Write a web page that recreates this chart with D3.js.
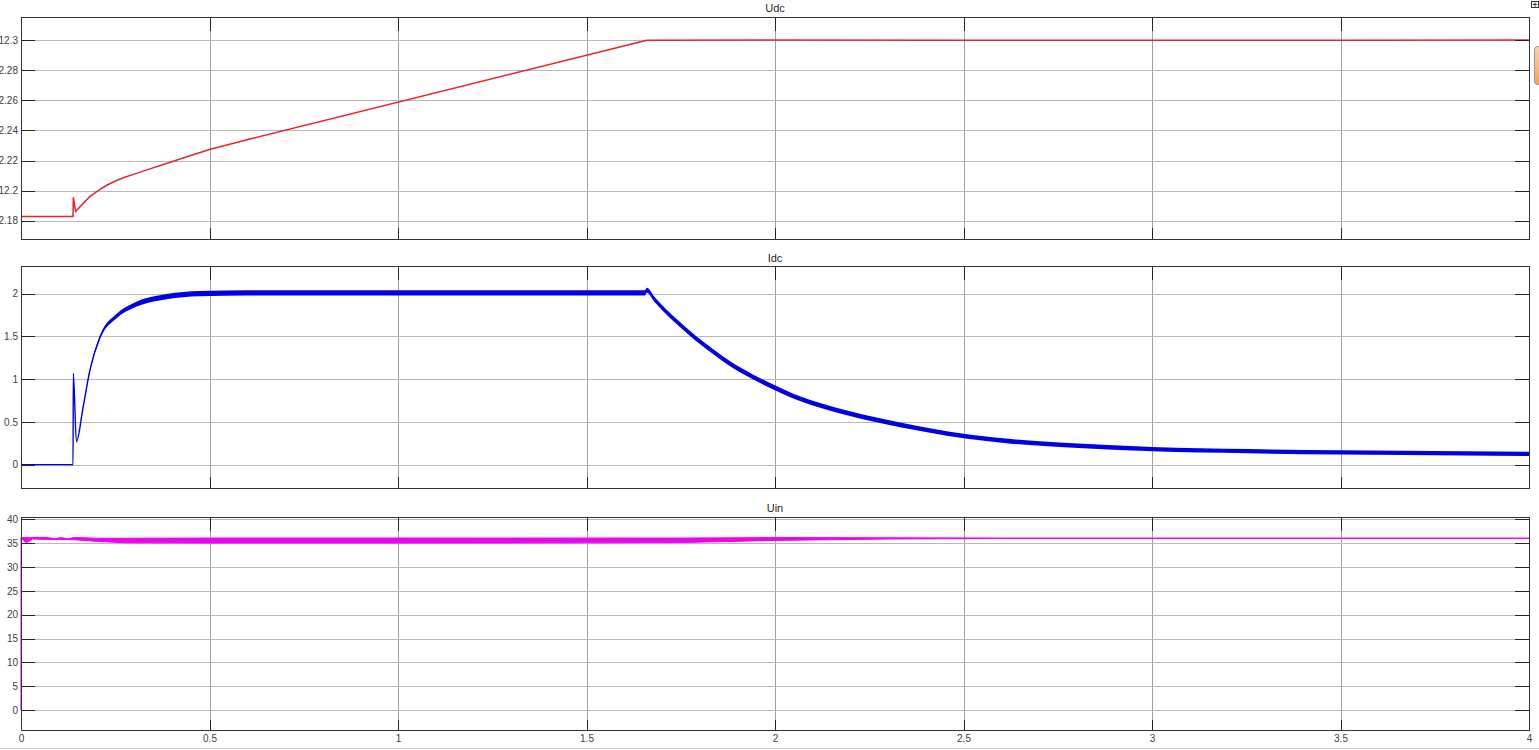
<!DOCTYPE html>
<html>
<head>
<meta charset="utf-8">
<script src="https://cdn.jsdelivr.net/npm/d3@7"></script>
<style>
  body { margin: 0; background: #fff; overflow: hidden; }
  svg { display: block; font-family: "Liberation Sans", Arial, sans-serif; }
  .grid line { stroke: #b8b8b8; stroke-width: 1; shape-rendering: crispEdges; }
  .grid path { display: none; }
  .ticks line { stroke: #262626; shape-rendering: crispEdges; }
  .ticks path { display: none; }
  .ticks text { fill: #404040; font-size: 10px; }
  .title { fill: #262626; font-size: 11px; text-anchor: middle; }
</style>
</head>
<body>
<div id="chart"></div>
<script>
// time axis ticks
var timeTicks = [0, 0.5, 1, 1.5, 2, 2.5, 3, 3.5, 4];

// Udc (top)
var udcTime  = [0, 0.138, 0.1388, 0.145, 0.15, 0.165, 0.183, 0.2095, 0.23, 0.2536, 0.275, 0.298, 0.34, 0.386, 0.44, 0.5, 0.607, 1.66, 2, 2.5, 3, 3.5, 4];
var udcValue = [12.1827, 12.1827, 12.1953, 12.1859, 12.1875, 12.1915, 12.1962, 12.2008, 12.2039, 12.2067, 12.2089, 12.2108, 12.2143, 12.218, 12.2225, 12.2274, 12.2343, 12.3, 12.3002, 12.3001, 12.3, 12.3001, 12.3002];
var udcTicks = [12.18, 12.2, 12.22, 12.24, 12.26, 12.28, 12.3];

// Idc (middle): centre value and half width of the ripple band
var idcTime   = [0, 0.138, 0.1388, 0.147, 0.165, 0.183, 0.2095, 0.2536, 0.298, 0.386, 0.474, 0.6, 1.0, 1.4, 1.655, 1.66, 1.68, 1.704, 1.75, 1.792, 1.84, 1.881, 1.94, 2.0, 2.05, 2.1, 2.17, 2.233, 2.3, 2.332, 2.411, 2.5, 2.62, 2.766, 3.0, 3.256, 3.5, 4];
var idcValue  = [0, 0, 1.069, 0.27, 0.68, 1.108, 1.49, 1.739, 1.86, 1.965, 2.0, 2.01, 2.01, 2.01, 2.01, 2.04, 1.935, 1.82, 1.63, 1.47, 1.31, 1.18, 1.03, 0.9, 0.8, 0.72, 0.63, 0.56, 0.495, 0.465, 0.4, 0.335, 0.275, 0.23, 0.182, 0.158, 0.143, 0.127];
var idcRipple = [0, 0, 0, 0, 0.008, 0.015, 0.02, 0.025, 0.028, 0.03, 0.031, 0.031, 0.031, 0.031, 0.031, 0.03, 0.03, 0.029, 0.029, 0.029, 0.029, 0.029, 0.029, 0.029, 0.028, 0.028, 0.028, 0.028, 0.028, 0.028, 0.027, 0.027, 0.027, 0.026, 0.026, 0.025, 0.025, 0.025];
var idcTicks  = [0, 0.5, 1, 1.5, 2];

// Uin (bottom): upper and lower envelope
var uinTime = [0, 0.0004, 0.003, 0.012, 0.02, 0.03, 0.07, 0.09, 0.105, 0.125, 0.14, 0.17, 0.2, 0.28, 0.5, 1.0, 1.5, 1.75, 2.0, 2.3, 2.6, 3, 3.5, 4];
var uinHigh = [0, 36.2, 36.2, 36.2, 36.15, 36.2, 36.2, 35.95, 36.2, 35.95, 36.2, 36.15, 36.05, 36.05, 36.1, 36.1, 36.1, 36.1, 36.2, 36.15, 36.1, 36.1, 36.1, 36.1];
var uinLow  = [0, 36.0, 35.9, 35.2, 35.3, 35.9, 35.8, 35.8, 35.8, 35.8, 35.75, 35.6, 35.4, 35.1, 35.05, 35.05, 35.1, 35.15, 35.6, 35.9, 36.0, 36.0, 36.0, 36.0];
var uinTicks = [0, 5, 10, 15, 20, 25, 30, 35, 40];

var width = 1539, height = 750;
var left = 21, right = 1529;
var fmt = d3.format("~g");

var svg = d3.select("#chart").append("svg")
    .attr("width", width)
    .attr("height", height);

var x = d3.scaleLinear().domain([0, 4]).range([left, right]);

var panels = [
    { name: "Udc", top: 17, bottom: 239, domain: [12.1678, 12.3155], ticks: udcTicks, titleY: 12 },
    { name: "Idc", top: 266, bottom: 488, domain: [-0.273, 2.324], ticks: idcTicks, titleY: 262 },
    { name: "Uin", top: 517, bottom: 730.5, domain: [-4.3, 40.52], ticks: uinTicks, titleY: 512 }
];

panels.forEach(function (p, i) {
    p.y = d3.scaleLinear().domain(p.domain).range([p.bottom, p.top]);
    var h = p.bottom - p.top;
    var g = svg.append("g");

    g.append("rect")
        .attr("x", left).attr("y", p.top)
        .attr("width", right - left).attr("height", h)
        .attr("fill", "#fff");

    // grid
    g.append("g").attr("class", "grid")
        .attr("transform", "translate(0," + p.bottom + ")")
        .call(d3.axisBottom(x).tickValues(timeTicks).tickSize(-h).tickFormat(""))
        .selectAll("line").style("stroke", "#a0a0a0");
    g.append("g").attr("class", "grid")
        .attr("transform", "translate(" + left + ",0)")
        .call(d3.axisLeft(p.y).tickValues(p.ticks).tickSize(-(right - left)).tickFormat(""));

    p.g = g;
});

// Udc line
var udcLine = d3.line()
    .x(function (d, i) { return x(udcTime[i]); })
    .y(function (d) { return panels[0].y(d); });
panels[0].g.append("path")
    .attr("d", udcLine(udcValue))
    .attr("fill", "none")
    .attr("stroke", "#e3262b")
    .attr("stroke-width", 1.5)
    .attr("stroke-linejoin", "round");

// Idc band + line
var idcIdx = d3.range(idcTime.length);
var idcArea = d3.area()
    .x(function (i) { return x(idcTime[i]); })
    .y0(function (i) { return panels[1].y(idcValue[i] - idcRipple[i]); })
    .y1(function (i) { return panels[1].y(idcValue[i] + idcRipple[i]); })
    .curve(d3.curveMonotoneX);
panels[1].g.append("path")
    .attr("d", idcArea(idcIdx.slice(3)))
    .attr("fill", "#0000e6");
panels[1].g.append("path")
    .attr("d", d3.line()
        .x(function (i) { return x(idcTime[i]); })
        .y(function (i) { return panels[1].y(idcValue[i]); })
        .curve(d3.curveMonotoneX)(idcIdx))
    .attr("fill", "none")
    .attr("stroke", "#0000e6")
    .attr("stroke-width", 1.4)
    .attr("stroke-linejoin", "round");

// Uin band
var uinIdx = d3.range(uinTime.length);
var uinArea = d3.area()
    .x(function (i) { return x(uinTime[i]); })
    .y0(function (i) { return panels[2].y(uinLow[i]); })
    .y1(function (i) { return panels[2].y(uinHigh[i]); });
panels[2].g.append("path")
    .attr("d", uinArea(uinIdx.slice(1)))
    .attr("fill", "#f000f0")
    .attr("stroke", "#f000f0")
    .attr("stroke-width", 1);
panels[2].g.append("path")
    .attr("d", d3.line()
        .x(function (i) { return x(uinTime[i]); })
        .y(function (i) { return panels[2].y(uinHigh[i]); })(uinIdx.slice(0, 2)))
    .attr("fill", "none")
    .attr("stroke", "#f000f0")
    .attr("stroke-width", 1.2);

// ticks, box, titles
panels.forEach(function (p, i) {
    var g = p.g;
    var h = p.bottom - p.top;
    g.append("g").attr("class", "ticks")
        .attr("transform", "translate(" + left + ",0)")
        .call(d3.axisLeft(p.y).tickValues(p.ticks).tickSize(-14).tickPadding(3)
            .tickFormat(function (d) { return fmt(+d.toFixed(2)); }));
    g.append("g").attr("class", "ticks")
        .attr("transform", "translate(" + right + ",0)")
        .call(d3.axisRight(p.y).tickValues(p.ticks).tickSize(-14).tickFormat(""));
    g.append("g").attr("class", "ticks")
        .attr("transform", "translate(0," + p.top + ")")
        .call(d3.axisTop(x).tickValues(timeTicks).tickSize(-14).tickFormat(""));
    var bottomAxis = d3.axisBottom(x).tickValues(timeTicks).tickSize(-11).tickPadding(4)
        .tickFormat(i < 2 ? "" : fmt);
    g.append("g").attr("class", "ticks")
        .attr("transform", "translate(0," + p.bottom + ")")
        .call(bottomAxis);

    g.append("rect")
        .attr("x", left).attr("y", p.top)
        .attr("width", right - left).attr("height", h)
        .attr("fill", "none")
        .attr("stroke", "#333")
        .attr("stroke-width", 1)
        .attr("shape-rendering", "crispEdges");

    g.append("text").attr("class", "title")
        .attr("x", (left + right) / 2)
        .attr("y", p.titleY)
        .text(p.name);
});

// small window decorations at the right edge
svg.append("rect").attr("x", 1531.5).attr("y", 1.5).attr("width", 7).attr("height", 6)
    .attr("fill", "#fff").attr("stroke", "#333").attr("stroke-width", 1);
svg.append("path").attr("d", "M1535,2.5V6.5M1533,4.5H1537").attr("stroke", "#333");
var grad = svg.append("defs").append("linearGradient").attr("id", "og")
    .attr("x1", 0).attr("x2", 0).attr("y1", 0).attr("y2", 1);
grad.append("stop").attr("offset", 0).attr("stop-color", "#fbd3a8");
grad.append("stop").attr("offset", 1).attr("stop-color", "#f3a25a");
svg.append("rect").attr("x", 1534.5).attr("y", 46.5).attr("width", 10).attr("height", 38)
    .attr("rx", 3).attr("fill", "url(#og)").attr("stroke", "#999");

svg.append("line").attr("x1", 0).attr("x2", width).attr("y1", 748.5).attr("y2", 748.5)
    .attr("stroke", "#d0d0d0");
</script>
</body>
</html>
